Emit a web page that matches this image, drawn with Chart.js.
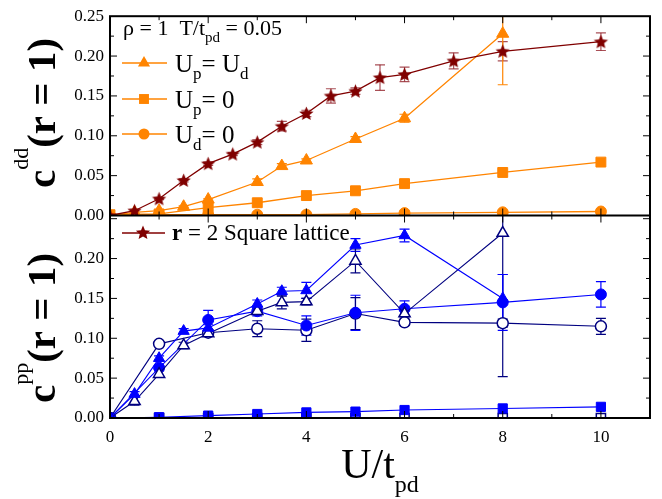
<!DOCTYPE html>
<html>
<head>
<meta charset="utf-8">
<script src="https://cdn.jsdelivr.net/npm/chart.js@4/dist/chart.umd.min.js"></script>
<style>
  html, body { margin: 0; padding: 0; background: #fff; }
</style>
</head>
<body>
<canvas id="c" width="662" height="499"></canvas>
<script>
// ---- data ----
// top panel: c^dd(r=1)
var xStar   = [0, 0.5, 1, 1.5, 2, 2.5, 3, 3.5, 4, 4.5, 5, 5.5, 6, 7, 8, 10];
var yStar   = [0, 0.006, 0.021, 0.044, 0.065, 0.077, 0.092, 0.112, 0.128, 0.150, 0.156, 0.173, 0.177, 0.194, 0.206, 0.218];
var eStar   = [0, 0, 0.001, 0.002, 0.002, 0.002, 0.003, 0.006, 0.004, 0.009, 0.004, 0.016, 0.009, 0.010, 0.012, 0.011];

var xTri    = [0, 0.5, 1, 1.5, 2, 3, 3.5, 4, 5, 6, 8];
var yUpUd   = [0, 0.004, 0.006, 0.011, 0.020, 0.042, 0.062, 0.069, 0.096, 0.122, 0.228];
var eUpUd   = [0, 0, 0.001, 0.001, 0.001, 0.004, 0.003, 0.002, 0.003, 0.005, 0.064];

var xGrid   = [0, 1, 2, 3, 4, 5, 6, 8, 10];
var yUp0    = [0.001, 0.002, 0.010, 0.016, 0.025, 0.031, 0.040, 0.054, 0.067];
var yUd0    = [0, 0.001, 0.001, 0.001, 0.001, 0.002, 0.003, 0.004, 0.005];

// bottom panel: c^pp(r=1)
var yPpTriF = [0, 0.030, 0.075, 0.109, 0.113, 0.143, 0.159, 0.160, 0.217, 0.229, 0.150];
var ePpTriF = [0, 0.003, 0.003, 0.003, 0.004, 0.005, 0.005, 0.010, 0.008, 0.008, 0.030];
var yPpTriO = [0, 0.021, 0.055, 0.091, 0.106, 0.134, 0.145, 0.146, 0.197, 0.131, 0.232];
var ePpTriO = [0, 0.005, 0.004, 0.004, 0.003, 0.004, 0.008, 0.004, 0.015, 0.004, 0.180];
var yPpCirF = [0, 0.063, 0.123, 0.134, 0.116, 0.132, 0.137, 0.145, 0.155];
var ePpCirF = [0, 0.003, 0.012, 0.006, 0.012, 0.022, 0.010, 0.035, 0.016];
var yPpCirO = [0, 0.093, 0.107, 0.112, 0.110, 0.131, 0.120, 0.119, 0.115];
var ePpCirO = [0, 0.003, 0.004, 0.010, 0.014, 0.020, 0.004, 0.005, 0.010];
var yPpSqF  = [0, 0.001, 0.003, 0.005, 0.007, 0.008, 0.010, 0.012, 0.014];
var yPpSqO  = [0, 0, 0, 0, 0, 0, 0, 0, 0];

var xTicks    = [0, 2, 4, 6, 8, 10];
var yTopTicks = [0, 0.05, 0.10, 0.15, 0.20, 0.25];
var yBotTicks = [0, 0.05, 0.10, 0.15, 0.20];
var topMax = 0.25, botMax = 0.254;

var ORANGE = '#ff8400', MAROON = '#800000', BLUE = '#0000ff', NAVY = '#000080';
var SERIF  = '"Liberation Serif", "Times New Roman", serif';

function starPath(g, x, y, r) {
    g.beginPath();
    for (var k = 0; k < 10; k++) {
        var rr = k % 2 === 0 ? r : r * 0.45;
        var a = -Math.PI / 2 + k * Math.PI / 5;
        g.lineTo(x + rr * Math.cos(a), y + rr * Math.sin(a));
    }
    g.closePath();
}
function makeStar(r, color) {
    var c = document.createElement('canvas');
    c.width = c.height = Math.ceil(r * 2 + 2);
    var g = c.getContext('2d');
    starPath(g, c.width / 2, c.height / 2 + 0.5, r);
    g.fillStyle = color;
    g.fill();
    return c;
}
var starImg = makeStar(7.5, MAROON);

function pts(xs, ys) {
    return xs.map(function (x, i) { return {x: x, y: ys[i]}; });
}
function series(xs, ys, errs, axis, color, style, r, filled, lw) {
    return {
        data: pts(xs, ys),
        errs: errs,
        yAxisID: axis,
        borderColor: color,
        borderWidth: lw,
        pointStyle: style,
        pointRadius: r,
        pointBorderWidth: filled ? 1 : 1.5,
        pointBackgroundColor: filled ? color : '#ffffff',
        pointBorderColor: color,
        fill: false,
        tension: 0,
        clip: 0
    };
}

var datasets = [
    series(xStar, yStar, eStar, 'yTop', MAROON, starImg, 7, true, 1.3),
    series(xTri, yUpUd, eUpUd, 'yTop', ORANGE, 'triangle', 7, true, 1.3),
    series(xGrid, yUp0, null, 'yTop', ORANGE, 'rect', 7, true, 1.3),
    series(xGrid, yUd0, null, 'yTop', ORANGE, 'circle', 5.5, true, 1.3),
    series(xTri, yPpTriF, ePpTriF, 'yBot', BLUE, 'triangle', 6.5, true, 1.1),
    series(xTri, yPpTriO, ePpTriO, 'yBot', NAVY, 'triangle', 6.5, false, 1.1),
    series(xGrid, yPpCirF, ePpCirF, 'yBot', BLUE, 'circle', 5.5, true, 1.1),
    series(xGrid, yPpCirO, ePpCirO, 'yBot', NAVY, 'circle', 5.5, false, 1.1),
    series(xGrid, yPpSqF, null, 'yBot', BLUE, 'rect', 6.5, true, 1.1),
    series(xGrid, yPpSqO, null, 'yBot', NAVY, 'rect', 6.5, false, 1.1)
];

function line(ctx, x1, y1, x2, y2) {
    ctx.beginPath();
    ctx.moveTo(x1, y1);
    ctx.lineTo(x2, y2);
    ctx.stroke();
}
function runs(ctx, x, y, parts) {
    var cx = x;
    parts.forEach(function (p) {
        ctx.font = p[1];
        ctx.fillText(p[0], cx, y + p[2]);
        cx += ctx.measureText(p[0]).width;
    });
    return cx - x;
}
function runsWidth(ctx, parts) {
    var w = 0;
    parts.forEach(function (p) { ctx.font = p[1]; w += ctx.measureText(p[0]).width; });
    return w;
}
function marker(ctx, style, x, y, r, color) {
    ctx.fillStyle = color;
    if (style === 'triangle') {
        ctx.beginPath();
        var a = 0;
        for (var k = 0; k < 3; k++) {
            ctx.lineTo(x + Math.sin(a) * r, y - Math.cos(a) * r);
            a += 2 * Math.PI / 3;
        }
        ctx.closePath();
        ctx.fill();
    } else if (style === 'rect') {
        var s = Math.SQRT1_2 * r;
        ctx.fillRect(x - s, y - s, 2 * s, 2 * s);
    } else if (style === 'circle') {
        ctx.beginPath();
        ctx.arc(x, y, r, 0, Math.PI * 2);
        ctx.fill();
    } else {
        starPath(ctx, x, y, r);
        ctx.fill();
    }
}

var decor = {
    id: 'decor',
    beforeDatasetsDraw: function (chart) {
        // error bars
        var ctx = chart.ctx, a = chart.chartArea, xs = chart.scales.x;
        chart.data.datasets.forEach(function (ds) {
            if (!ds.errs) return;
            var ys = chart.scales[ds.yAxisID];
            ctx.save();
            ctx.beginPath();
            ctx.rect(a.left, ys.top, a.right - a.left, ys.bottom - ys.top);
            ctx.clip();
            ctx.strokeStyle = ds.borderColor === MAROON ? 'rgba(140,20,30,0.75)' : ds.borderColor;
            ctx.lineWidth = 1.2;
            ds.data.forEach(function (p, j) {
                var e = ds.errs[j];
                if (!e) return;
                var px = xs.getPixelForValue(p.x);
                var y1 = ys.getPixelForValue(p.y + e), y2 = ys.getPixelForValue(p.y - e);
                line(ctx, px, y1, px, y2);
                line(ctx, px - 5, y1, px + 5, y1);
                line(ctx, px - 5, y2, px + 5, y2);
            });
            ctx.restore();
        });
    },
    afterDraw: function (chart) {
        var ctx = chart.ctx, a = chart.chartArea, xs = chart.scales.x;
        var yTop = chart.scales.yTop, yBot = chart.scales.yBot;
        ctx.save();
        ctx.strokeStyle = '#000';
        ctx.lineWidth = 1;
        [yTop, yBot].forEach(function (s) {
            for (var v = 1; v < 11; v++) {
                var px = xs.getPixelForValue(v), L = v % 2 === 0 ? 7 : 4;
                line(ctx, px, s.top, px, s.top + L);
                line(ctx, px, s.bottom, px, s.bottom - L);
            }
            for (var k = 1; k * 0.025 < s.max; k++) {
                var py = s.getPixelForValue(k * 0.025), M = k % 2 === 0 ? 7 : 4;
                line(ctx, a.left, py, a.left + M, py);
                line(ctx, a.right, py, a.right - M, py);
            }
        });
        ctx.lineWidth = 2;
        ctx.strokeRect(a.left, a.top, a.right - a.left, a.bottom - a.top);
        line(ctx, a.left, yTop.bottom, a.right, yTop.bottom);

        // axis titles
        ctx.fillStyle = '#000';
        ctx.textBaseline = 'alphabetic';
        ctx.textAlign = 'left';
        var tTop = [['c', 'bold 41px ' + SERIF, 0], ['dd', '22px ' + SERIF, -27], ['(r = 1)', 'bold 41px ' + SERIF, 0]];
        var tBot = [['c', 'bold 41px ' + SERIF, 0], ['pp', '22px ' + SERIF, -27], ['(r = 1)', 'bold 41px ' + SERIF, 0]];
        [[tTop, 113], [tBot, 328]].forEach(function (t) {
            ctx.save();
            ctx.translate(55, t[1]);
            ctx.rotate(-Math.PI / 2);
            runs(ctx, -runsWidth(ctx, t[0]) / 2, 0, t[0]);
            ctx.restore();
        });
        var tX = [['U/t', '42px ' + SERIF, 0], ['pd', '24px ' + SERIF, 14]];
        runs(ctx, (a.left + a.right) / 2 - runsWidth(ctx, tX) / 2, 478, tX);

        // legend, top panel
        runs(ctx, 123, 35, [['\u03c1 = 1  T/t', '22px ' + SERIF, 0], ['pd', '15px ' + SERIF, 7], [' = 0.05', '22px ' + SERIF, 0]]);
        var rows = [
            ['triangle', 63, [['U', '25px ' + SERIF, 0], ['p', '17px ' + SERIF, 7], ['= U', '25px ' + SERIF, 0], ['d', '17px ' + SERIF, 7]]],
            ['rect', 99, [['U', '25px ' + SERIF, 0], ['p', '17px ' + SERIF, 7], ['= 0', '25px ' + SERIF, 0]]],
            ['circle', 134, [['U', '25px ' + SERIF, 0], ['d', '17px ' + SERIF, 7], ['= 0', '25px ' + SERIF, 0]]]
        ];
        rows.forEach(function (r) {
            ctx.strokeStyle = ORANGE;
            ctx.lineWidth = 1.3;
            line(ctx, 122, r[1], 167, r[1]);
            marker(ctx, r[0], 144, r[1], r[0] === 'circle' ? 5.5 : 7, ORANGE);
            ctx.fillStyle = '#000';
            runs(ctx, 175, r[1] + 9, r[2]);
        });

        // legend, bottom panel
        ctx.strokeStyle = MAROON;
        ctx.lineWidth = 1.3;
        line(ctx, 122, 233, 165, 233);
        marker(ctx, 'star', 143, 233, 7.5, MAROON);
        ctx.fillStyle = '#000';
        runs(ctx, 172, 240, [['r', 'bold 23px ' + SERIF, 0], [' = 2 Square lattice', '23px ' + SERIF, 0]]);
        ctx.restore();
    }
};

var tickFont = {family: SERIF, size: 17};

new Chart(document.getElementById('c'), {
    type: 'line',
    data: {datasets: datasets},
    options: {
        responsive: false,
        animation: false,
        devicePixelRatio: 1,
        layout: {padding: {left: 70, right: 12, top: 13, bottom: 51}},
        plugins: {legend: {display: false}, tooltip: {enabled: false}},
        scales: {
            x: {
                type: 'linear', min: 0, max: 11,
                afterBuildTicks: function (s) { s.ticks = xTicks.map(function (v) { return {value: v}; }); },
                afterFit: function (s) { s.height = 30; },
                ticks: {font: tickFont, color: '#000', padding: 9, maxRotation: 0, autoSkip: false},
                grid: {display: false, drawTicks: false},
                border: {display: false}
            },
            yBot: {
                type: 'linear', position: 'left', stack: 'panels', stackWeight: botMax,
                min: 0, max: botMax,
                afterBuildTicks: function (s) { s.ticks = yBotTicks.map(function (v) { return {value: v}; }); },
                afterFit: function (s) { s.width = 40; },
                ticks: {font: tickFont, color: '#000', padding: 6, autoSkip: false, callback: function (v) { return v.toFixed(2); }},
                grid: {display: false, drawTicks: false},
                border: {display: false}
            },
            yTop: {
                type: 'linear', position: 'left', stack: 'panels', stackWeight: topMax,
                min: 0, max: topMax,
                afterBuildTicks: function (s) { s.ticks = yTopTicks.map(function (v) { return {value: v}; }); },
                afterFit: function (s) { s.width = 40; },
                ticks: {font: tickFont, color: '#000', padding: 6, autoSkip: false, callback: function (v) { return v.toFixed(2); }},
                grid: {display: false, drawTicks: false},
                border: {display: false}
            }
        }
    },
    plugins: [decor]
});
</script>
</body>
</html>
